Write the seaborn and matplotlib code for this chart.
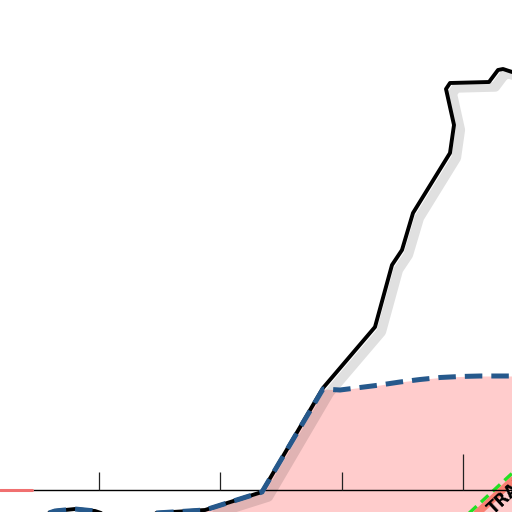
import numpy as np
import pandas as pd
import matplotlib
matplotlib.use("Agg")
import matplotlib.pyplot as plt
import matplotlib.patheffects as pe
import seaborn as sns

sns.set_theme(style="white")
plt.rcParams["font.family"] = ["DejaVu Sans"]

# -----------------------------
# Data (plot units, y up)
# -----------------------------
profile_x = [140, 205, 262, 323, 375, 392, 402, 413, 450, 454, 446, 450, 489, 498, 503, 512]
profile_y = [-2, 2, 20, 124, 185, 247, 262, 299, 359, 387, 423, 429, 430, 442, 443, 440]

limit_x = [140, 205, 262, 323, 340, 360, 380, 400, 420, 440, 460, 480, 512]
limit_y = [-2, 2, 20, 123, 122, 124.5, 127, 130, 132.5, 134.5, 135.5, 136, 136]

stub_x = [40, 55, 75, 95, 110]
stub_y = [-4, 1, 3, 1, -4]

baseline_y = 22
tick_x = [99, 220, 342, 463]
tick_len = [18, 18, 18, 36]

red_x = [0, 32]
red_y = [22, 22]

trail_x = [466, 520]
trail_y = [-4, 46]
band_x = [472, 526]
band_y = [-6, 44]

label_text = "TRAIL"
label_pos = (494, -3)

# -----------------------------
# Figure
# -----------------------------
fig = plt.figure(figsize=(5.12, 5.12), dpi=100)
ax = fig.add_axes([0, 0, 1, 1])
ax.set_xlim(0, 512)
ax.set_ylim(0, 512)
ax.axis("off")

# pink area below the limit curve
ax.fill_between(limit_x, limit_y, -10, color="#ffcccc", lw=0, zorder=1)

# baseline and ticks
ax.axhline(baseline_y, color="black", lw=1.0, zorder=3)
ax.vlines(tick_x, baseline_y, [baseline_y + t for t in tick_len],
          color="#222222", lw=0.9, zorder=3)

sns.lineplot(x=red_x, y=red_y, color="#f07070", lw=2.2, ax=ax, zorder=3)

# diagonal trail
sns.lineplot(x=band_x, y=band_y, color="#fa8072", lw=5.5, ax=ax, sort=False,
             estimator=None, zorder=2)
sns.lineplot(x=trail_x, y=trail_y, color="#22e022", lw=2.4, ax=ax, sort=False,
             estimator=None, zorder=2)
ax.lines[-1].set_dashes((3, 1.8))
ax.text(label_pos[0], label_pos[1], label_text, rotation=43, fontsize=12,
        fontweight="bold", color="black", ha="left", va="baseline",
        rotation_mode="anchor", zorder=4, clip_on=True)

# black profile with shadow
shadow = [pe.SimpleLineShadow(offset=(4.5, -3.5), shadow_color="black",
                              alpha=0.12, linewidth=7), pe.Normal()]
sns.lineplot(x=profile_x, y=profile_y, color="black", lw=2.8, ax=ax, sort=False,
             estimator=None, zorder=4)
ax.lines[-1].set_path_effects(shadow)
sns.lineplot(x=stub_x, y=stub_y, color="black", lw=2.8, ax=ax, sort=False,
             estimator=None, zorder=4)

# dashed limit curve
for xs, ys in [(limit_x, limit_y), (stub_x, stub_y)]:
    sns.lineplot(x=xs, y=ys, color="#26598c", lw=3.6, ax=ax, sort=False,
                 estimator=None, zorder=5)
    ax.lines[-1].set_dashes((3.5, 1.8))

fig.savefig("out.png", dpi=100)
